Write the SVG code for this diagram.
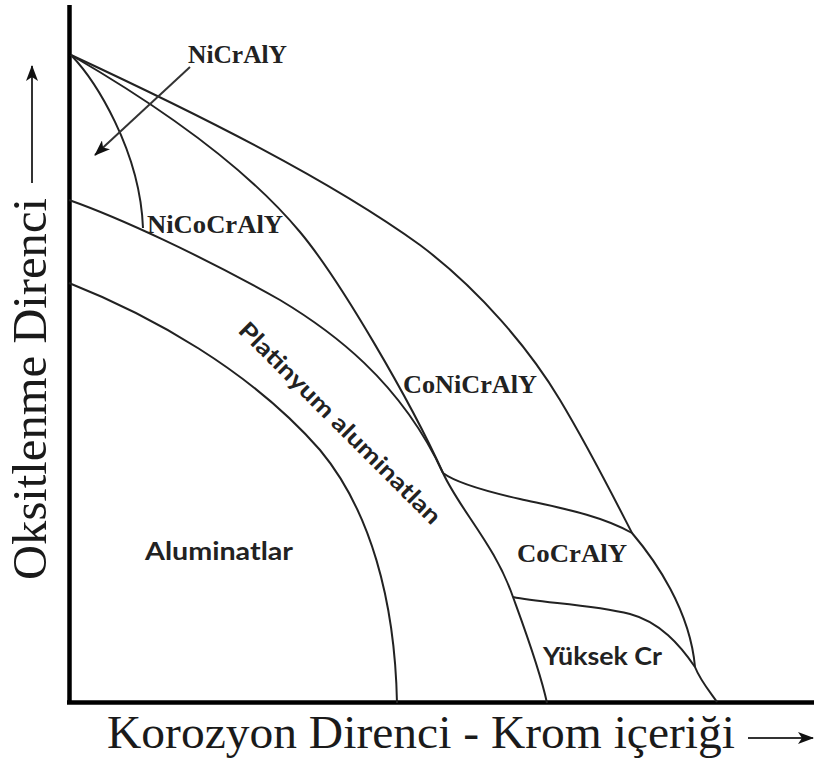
<svg xmlns="http://www.w3.org/2000/svg" width="818" height="762" viewBox="0 0 818 762">
<defs>
<style>
.axis{stroke:#000;stroke-width:4.5;fill:none}
.curve{stroke:#222;stroke-width:2;fill:none;stroke-linejoin:round}
.arr{stroke:#333;stroke-width:2;fill:none;marker-end:url(#ah)}
.ser{font-family:"Liberation Serif","Times New Roman",serif;fill:#1a1a1a}
.lab{font-family:"Liberation Serif","Times New Roman",serif;font-weight:700;font-size:25px;fill:#222}
.sans{font-family:Lato,"Open Sans","Liberation Sans",sans-serif;font-weight:700;fill:#222}
</style>
<marker id="ah" viewBox="0 0 16 12" refX="15" refY="6" markerWidth="16" markerHeight="12" markerUnits="userSpaceOnUse" orient="auto">
<path d="M0,0 L16,6 L0,12 L4,6 Z" fill="#111"/>
</marker>
</defs>
<rect width="818" height="762" fill="#fff"/>

<g id="axes">
<line class="axis" x1="69.5" y1="5" x2="69.5" y2="704"/>
<line class="axis" x1="67" y1="702.5" x2="814" y2="702.5"/>
</g>

<g id="connectors">
<path id="curve-nicraly" class="curve" d="M71,55 C95,80 140,150 143,228"/>
<path id="curve-a" class="curve" d="M71,55 C140,95 240,160 300,232 C340,280 410,400 443,473 C460,510 495,545 513,597 C525,630 540,670 547,703"/>
<path id="curve-b" class="curve" d="M69,200 C120,218 200,255 280,300 C330,330 400,380 443,473"/>
<path id="curve-b2" class="curve" d="M443,473 C455,482 480,490 520,499 C560,508 600,515 632,533"/>
<path id="curve-c" class="curve" d="M69,283 C150,315 250,370 320,450 C370,510 395,600 397,703"/>
<path id="curve-d" class="curve" d="M71,55 C200,115 330,180 420,245 C480,290 530,350 560,400 C590,450 615,500 632,533 C655,560 690,610 695,667 C700,680 710,692 717,702"/>
<path id="curve-f" class="curve" d="M513,597 C540,603 590,604 630,614 C660,622 680,645 695,667"/>
<line class="arr" x1="190" y1="67" x2="95" y2="155"/>
<line class="arr" x1="32" y1="183" x2="32" y2="66"/>
<line class="arr" x1="748" y1="738" x2="813" y2="738"/>
</g>

<g id="label-nicraly"><text class="lab" x="188" y="63" textLength="99" lengthAdjust="spacingAndGlyphs">NiCrAlY</text></g>
<g id="label-nicocraly"><text class="lab" x="147" y="233" textLength="136" lengthAdjust="spacingAndGlyphs">NiCoCrAlY</text></g>
<g id="label-conicraly"><text class="lab" x="403" y="393" textLength="134" lengthAdjust="spacingAndGlyphs">CoNiCrAlY</text></g>
<g id="label-cocraly"><text class="lab" x="517" y="562" textLength="110" lengthAdjust="spacingAndGlyphs">CoCrAlY</text></g>
<g id="label-aluminatlar"><text class="sans" x="145" y="560" font-size="25" textLength="148" lengthAdjust="spacingAndGlyphs">Aluminatlar</text></g>
<g id="label-yuksekcr"><text class="sans" x="543" y="665" font-size="24" textLength="119" lengthAdjust="spacingAndGlyphs">Yüksek Cr</text></g>
<g id="label-platinyum"><text class="sans" transform="translate(340,423) rotate(45)" x="0" y="8" font-size="23" text-anchor="middle" textLength="275" lengthAdjust="spacingAndGlyphs">Platinyum aluminatlan</text></g>

<g id="axis-label-y"><text class="ser" transform="translate(46,580) rotate(-90)" x="0" y="0" font-size="49" textLength="382" lengthAdjust="spacingAndGlyphs">Oksitlenme Direnci</text></g>
<g id="axis-label-x"><text class="ser" x="107" y="748" font-size="47" textLength="628" lengthAdjust="spacingAndGlyphs">Korozyon Direnci - Krom içeriği</text></g>
</svg>
